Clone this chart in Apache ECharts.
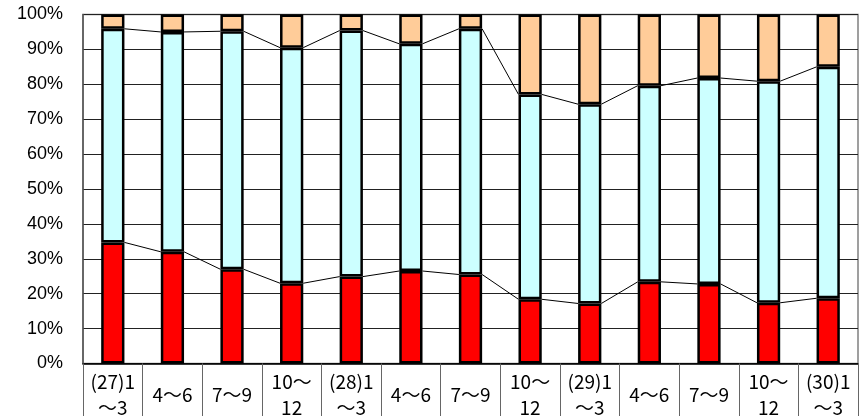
<!DOCTYPE html>
<html>
<head>
<meta charset="utf-8">
<script src="https://cdn.jsdelivr.net/npm/echarts@6/dist/echarts.min.js"></script>
<style>
html,body{margin:0;padding:0;background:#fff;}
#chart{width:868px;height:416px;}
</style>
</head>
<body>
<div id="chart"></div>
<script>
var categories = ['(27)1\n～3', '4～6', '7～9', '10～\n12', '(28)1\n～3', '4～6', '7～9', '10～\n12', '(29)1\n～3', '4～6', '7～9', '10～\n12', '(30)1\n～3'];
var redValues = [34.7, 32.0, 27.0, 23.0, 24.9, 26.5, 25.5, 18.4, 17.2, 23.4, 22.8, 17.4, 18.7];
var cyanValues = [61.2, 63.0, 68.2, 67.5, 70.5, 65.1, 70.4, 58.7, 57.1, 56.2, 59.0, 63.5, 66.3];
var peachValues = [4.1, 5.0, 4.8, 9.5, 4.6, 8.4, 4.1, 22.9, 25.7, 20.4, 18.2, 19.1, 15.0];
var yTicks = [0, 10, 20, 30, 40, 50, 60, 70, 80, 90, 100];

var BAR_RATIO = 0.39;
var lineData = [];
for (var i = 0; i < categories.length - 1; i++) {
  var lo1 = redValues[i], lo2 = redValues[i + 1];
  var hi1 = redValues[i] + cyanValues[i], hi2 = redValues[i + 1] + cyanValues[i + 1];
  lineData.push([i, lo1, lo2, hi1, hi2]);
}

var chart = echarts.init(document.getElementById('chart'));
var barBase = { type: 'bar', stack: 'total', barWidth: '39%' };
chart.setOption({
  animation: false,
  grid: { left: 83, right: 10, top: 14.5, bottom: 52.5, show: true, borderColor: '#808080', borderWidth: 1.5, containLabel: false, outerBoundsMode: 'none' },
  xAxis: {
    type: 'category',
    data: categories,
    boundaryGap: true,
    axisLine: { show: true, lineStyle: { color: '#000', width: 1.5 } },
    axisTick: { show: true, length: 60, inside: false, lineStyle: { color: '#666', width: 1 } },
    axisLabel: {
      interval: 0, margin: 31, verticalAlign: 'middle', lineHeight: 26,
      fontFamily: 'Noto Sans CJK JP', fontSize: 19, color: '#000'
    }
  },
  yAxis: {
    type: 'value', min: 0, max: 100, interval: 10,
    axisLine: { show: true, lineStyle: { color: '#555', width: 1.5 } },
    axisTick: { show: false },
    splitLine: { show: true, lineStyle: { color: '#222', width: 1 } },
    axisLabel: {
      margin: 20, fontFamily: 'Liberation Sans', fontSize: 18, color: '#000',
      formatter: function (v) { return yTicks.indexOf(v) >= 0 ? v + '%' : ''; }
    }
  },
  series: [
    Object.assign({}, barBase, { name: 'red', data: redValues, itemStyle: { color: '#FF0000', borderColor: '#000', borderWidth: 2.5 } }),
    Object.assign({}, barBase, { name: 'cyan', data: cyanValues, itemStyle: { color: '#CCFFFF', borderColor: '#000', borderWidth: 2.5 } }),
    Object.assign({}, barBase, { name: 'peach', data: peachValues, itemStyle: { color: '#FFCC99', borderColor: '#000', borderWidth: 2.5 } }),
    {
      type: 'custom',
      z: 5,
      data: lineData,
      renderItem: function (params, api) {
        var idx = api.value(0);
        var half = api.size([1, 0])[0] * BAR_RATIO / 2;
        var a1 = api.coord([idx, api.value(1)]);
        var a2 = api.coord([idx + 1, api.value(2)]);
        var b1 = api.coord([idx, api.value(3)]);
        var b2 = api.coord([idx + 1, api.value(4)]);
        var st = { stroke: '#000', lineWidth: 1 };
        return {
          type: 'group',
          children: [
            { type: 'line', shape: { x1: a1[0] + half, y1: a1[1], x2: a2[0] - half, y2: a2[1] }, style: st },
            { type: 'line', shape: { x1: b1[0] + half, y1: b1[1], x2: b2[0] - half, y2: b2[1] }, style: st }
          ]
        };
      }
    }
  ]
});
</script>
</body>
</html>
